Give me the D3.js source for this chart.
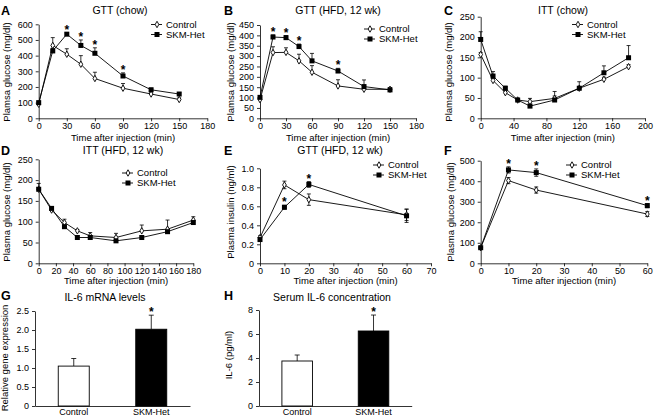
<!DOCTYPE html>
<html><head><meta charset="utf-8">
<script src="https://cdn.jsdelivr.net/npm/d3@7"></script>
<style>
body{margin:0;background:#fff;}
svg{display:block;}
.tk text{font-family:"Liberation Sans Narrow","Arial Narrow","Liberation Sans",Arial,sans-serif;font-size:9px;fill:#000;}
.tk path,.tk line{stroke:#000;stroke-width:0.8;}
</style>
</head><body>
<svg id="c" width="658" height="418"></svg>
<script>
// ---------- DATA ----------
const aTime = [0, 15, 30, 45, 60, 90, 120, 150];
const aControl = [90, 465, 409, 345, 254, 192, 155, 120];
const aControlErr = [10, 50, 35, 55, 40, 30, 12, 10];
const aSkm = [100, 430, 537, 465, 415, 270, 182, 155];
const aSkmErr = [8, 15, 8, 35, 35, 20, 10, 8];
const aStars = [30, 45, 60, 90];

const bTime = [0, 15, 30, 45, 60, 90, 120, 150];
const bControl = [90, 317, 318, 277, 222, 156, 140, 140];
const bControlErr = [8, 28, 22, 32, 32, 30, 12, 8];
const bSkm = [101, 392, 389, 346, 277, 228, 153, 137];
const bSkmErr = [8, 10, 10, 12, 36, 13, 32, 8];
const bStars = [15, 30, 45, 90];

const cTime = [0, 15, 30, 45, 60, 90, 120, 150, 180];
const cControl = [157, 93, 63, 45, 41, 49, 74, 96, 127];
const cControlErr = [5, 5, 4, 3, 8, 6, 4, 5, 5];
const cSkm = [194, 104, 74, 45, 30, 45, 74, 112, 149];
const cSkmErr = [19, 11, 5, 4, 5, 21, 16, 17, 30];

const dTime = [0, 15, 30, 45, 60, 90, 120, 150, 180];
const dControl = [178, 128, 98, 78, 66, 62, 78, 82, 104];
const dControlErr = [14, 4, 8, 3, 8, 10, 14, 22, 8];
const dSkm = [178, 132, 88, 62, 62, 54, 62, 76, 98];
const dSkmErr = [4, 4, 4, 4, 4, 4, 4, 4, 4];

const eTime = [0, 10, 20, 60];
const eControl = [0.27, 0.825, 0.67, 0.51];
const eControlErr = [0.02, 0.04, 0.06, 0.06];
const eSkm = [0.25, 0.59, 0.83, 0.50];
const eSkmErr = [0.02, 0.02, 0.03, 0.07];
const eStars = [10, 20];

const fTime = [0, 10, 20, 60];
const fControl = [76, 403, 357, 240];
const fControlErr = [5, 15, 15, 12];
const fSkm = [76, 455, 442, 281];
const fSkmErr = [5, 15, 18, 10];
const fStars = [10, 20, 60];

const barCats = ["Control", "SKM-Het"];
const gValues = [1.05, 2.02];
const gErr = [0.2, 0.37];
const hValues = [3.75, 6.25];
const hErr = [0.5, 1.33];

const seriesNames = ["Control", "SKM-Het"];
const xLabel = "Time after injection (min)";

// ---------- DRAW ----------
const svg = d3.select("#c");
svg.append("rect").attr("width",658).attr("height",418).attr("fill","#fff");
const FONT = '"Liberation Sans",Arial,sans-serif';

function txt(x,y,s,opt={}){
  const t = svg.append("text").attr("x",x).attr("y",y).text(s)
    .attr("font-family",FONT).attr("font-size",opt.size||10)
    .attr("text-anchor",opt.anchor||"middle").attr("fill","#000");
  if(opt.bold) t.attr("font-weight","bold");
  if(opt.rot) t.attr("transform",`rotate(-90,${x},${y})`);
  return t;
}

function marker(g,kind,x,y){
  if(kind===0){
    g.append("path").attr("d",d3.symbol(d3.symbolDiamond,12)())
      .attr("transform",`translate(${x},${y})`)
      .attr("fill","#fff").attr("stroke","#000").attr("stroke-width",0.9);
  } else {
    g.append("rect").attr("x",x-2.5).attr("y",y-2.5).attr("width",5).attr("height",5).attr("fill","#000");
  }
}

function linePanel(c){
  const x = d3.scaleLinear().domain(c.xDom).range([c.px0,c.px1]);
  const y = d3.scaleLinear().domain(c.yDom).range([c.py0,c.py1]);
  svg.append("g").attr("class","tk").attr("transform",`translate(0,${c.py0})`)
    .call(d3.axisBottom(x).tickValues(c.xTicks).tickSize(3).tickSizeOuter(0).tickPadding(1));
  svg.append("g").attr("class","tk").attr("transform",`translate(${c.px0},0)`)
    .call(d3.axisLeft(y).tickValues(c.yTicks).tickSize(3).tickSizeOuter(0).tickPadding(3).tickFormat(c.yFmt||(d=>d)));
  const g = svg.append("g");
  const line = d3.line().x(d=>x(d[0])).y(d=>y(d[1]));
  c.series.forEach((s,k)=>{
    const pts = c.time.map((t,i)=>[t,s.v[i],s.e[i]]);
    pts.forEach(p=>{
      const top = y(p[1]+p[2]);
      const bot = c.two ? y(p[1]-p[2]) : y(p[1]);
      g.append("line").attr("x1",x(p[0])).attr("x2",x(p[0])).attr("y1",top).attr("y2",bot).attr("stroke","#000").attr("stroke-width",0.8);
      g.append("line").attr("x1",x(p[0])-2).attr("x2",x(p[0])+2).attr("y1",top).attr("y2",top).attr("stroke","#000").attr("stroke-width",0.8);
      if(c.two) g.append("line").attr("x1",x(p[0])-2).attr("x2",x(p[0])+2).attr("y1",bot).attr("y2",bot).attr("stroke","#000").attr("stroke-width",0.8);
    });
    g.append("path").attr("d",line(pts)).attr("fill","none").attr("stroke","#000").attr("stroke-width",0.9);
  });
  c.series.forEach((s,k)=>{
    c.time.forEach((t,i)=>marker(g,k,x(t),y(s.v[i])));
  });
  (c.stars||[]).forEach(t=>{
    const i = c.time.indexOf(t);
    const s = c.series[1];
    const top = y(s.v[i]+s.e[i]);
    txt(x(t),top+1,"*",{size:12,bold:true});
  });
  seriesNames.forEach((n,k)=>{
    const ly = c.leg[1] + k*10;
    g.append("line").attr("x1",c.leg[0]-6).attr("x2",c.leg[0]+5).attr("y1",ly).attr("y2",ly).attr("stroke","#000").attr("stroke-width",0.9);
    marker(g,k,c.leg[0],ly);
    txt(c.leg[0]+9,ly+3.3,n,{size:9.5,anchor:"start"});
  });
  if(c.title) txt(c.title[0],c.title[1],c.title[2],{size:10.5});
  txt(c.letter[0],c.letter[1],c.letter[2],{size:12.5,bold:true,anchor:"start"});
  txt(c.ylab[0],c.ylab[1],c.ylab[2],{size:9.5,rot:true});
  txt((c.px0+c.px1)/2,c.xlabY,xLabel,{size:9.5});
}

function barPanel(c){
  const x = d3.scaleBand().domain(barCats).range([c.px0,c.px1]).paddingInner(0.6).paddingOuter(0.3);
  const y = d3.scaleLinear().domain(c.yDom).range([c.py0,c.py1]);
  const g = svg.append("g");
  c.vals.forEach((v,i)=>{
    const cx = x(barCats[i])+x.bandwidth()/2;
    const top = y(v+c.err[i]);
    g.append("line").attr("x1",cx).attr("x2",cx).attr("y1",top).attr("y2",y(v)).attr("stroke","#000").attr("stroke-width",0.8);
    g.append("line").attr("x1",cx-2.5).attr("x2",cx+2.5).attr("y1",top).attr("y2",top).attr("stroke","#000").attr("stroke-width",0.8);
    g.append("rect").attr("x",x(barCats[i])).attr("y",y(v)).attr("width",x.bandwidth()).attr("height",y(0)-y(v))
      .attr("fill",i===0?"#fff":"#000").attr("stroke","#000").attr("stroke-width",0.9);
    if(i===1) txt(cx,top+1,"*",{size:12,bold:true});
  });
  svg.append("g").attr("class","tk").attr("transform",`translate(0,${c.py0})`)
    .call(d3.axisBottom(x).tickSize(0).tickSizeOuter(0).tickPadding(3))
    .selectAll("text").attr("font-size","9.5px").attr("font-family",FONT);
  svg.append("g").attr("class","tk").attr("transform",`translate(${c.px0},0)`)
    .call(d3.axisLeft(y).tickValues(c.yTicks).tickSize(3).tickSizeOuter(0).tickPadding(3).tickFormat(c.yFmt));
  txt(c.title[0],c.title[1],c.title[2],{size:10.5});
  txt(c.letter[0],c.letter[1],c.letter[2],{size:12.5,bold:true,anchor:"start"});
  txt(c.ylab[0],c.ylab[1],c.ylab[2],{size:9.5,rot:true});
}

const f1 = d => d===0 ? "0" : d3.format(".1f")(d);

linePanel({px0:38.7,px1:207.3,py0:118.3,py1:24.3,xDom:[0,180],yDom:[0,600],
  xTicks:[0,30,60,90,120,150,180],yTicks:[0,100,200,300,400,500,600],time:aTime,
  series:[{v:aControl,e:aControlErr},{v:aSkm,e:aSkmErr}],stars:aStars,
  leg:[157,24.5],title:[120,14,"GTT (chow)"],letter:[1,15,"A"],ylab:[10,72,"Plamsa glucose (mg/dl)"],xlabY:140.5});

linePanel({px0:260,px1:416,py0:118.3,py1:25,xDom:[0,180],yDom:[0,450],
  xTicks:[0,30,60,90,120,150,180],yTicks:d3.range(0,451,50),time:bTime,
  series:[{v:bControl,e:bControlErr},{v:bSkm,e:bSkmErr}],stars:bStars,
  leg:[370,29],title:[338,14,"GTT (HFD, 12 wk)"],letter:[224,15,"B"],ylab:[234,72,"Plamsa glucose (mg/dl)"],xlabY:140.5});

linePanel({px0:480.7,px1:645,py0:118.3,py1:16.7,xDom:[0,200],yDom:[0,250],
  xTicks:[0,40,80,120,160,200],yTicks:d3.range(0,251,50),time:cTime,
  series:[{v:cControl,e:cControlErr},{v:cSkm,e:cSkmErr}],
  leg:[578,24.5],title:[563,14,"ITT (chow)"],letter:[444,15,"C"],ylab:[452,72,"Plamsa glucose (mg/dl)"],xlabY:140.5});

linePanel({px0:38.7,px1:193.3,py0:263.3,py1:159.3,xDom:[0,180],yDom:[0,250],
  xTicks:d3.range(0,181,20),yTicks:d3.range(0,251,50),time:dTime,
  series:[{v:dControl,e:dControlErr},{v:dSkm,e:dSkmErr}],
  leg:[128,173],title:[123,154,"ITT (HFD, 12 wk)"],letter:[1,155,"D"],ylab:[10,212,"Plasma glucose (mg/dl)"],xlabY:284});

linePanel({px0:260,px1:431,py0:263.3,py1:168.3,xDom:[0,70],yDom:[0,1],
  xTicks:d3.range(0,71,10),yTicks:d3.range(0,1.01,0.2),yFmt:f1,time:eTime,two:true,
  series:[{v:eControl,e:eControlErr},{v:eSkm,e:eSkmErr}],stars:eStars,
  leg:[379,165],title:[340,154,"GTT (HFD, 12 wk)"],letter:[224,155,"E"],ylab:[234,212,"Plasma insulin (ng/ml)"],xlabY:284});

linePanel({px0:480.7,px1:647.3,py0:263.3,py1:160.7,xDom:[0,60],yDom:[0,500],
  xTicks:d3.range(0,61,10),yTicks:d3.range(0,501,100),time:fTime,two:true,
  series:[{v:fControl,e:fControlErr},{v:fSkm,e:fSkmErr}],stars:fStars,
  leg:[572,165],letter:[444,155,"F"],ylab:[454,212,"Plasma glucose (mg/dl)"],xlabY:284});

barPanel({px0:35,px1:190,py0:406,py1:311,yDom:[0,2.5],yTicks:d3.range(0,2.51,0.5),yFmt:f1,
  vals:gValues,err:gErr,title:[105,301,"IL-6 mRNA levels"],letter:[1,300,"G"],ylab:[8,358,"Relative gene expression"]});

barPanel({px0:259,px1:411.7,py0:406,py1:310,yDom:[0,8],yTicks:[0,2,4,6,8],yFmt:d=>d,
  vals:hValues,err:hErr,title:[332,301,"Serum IL-6 concentration"],letter:[224,300,"H"],ylab:[232,355,"IL-6 (pg/ml)"]});
</script>
</body></html>
